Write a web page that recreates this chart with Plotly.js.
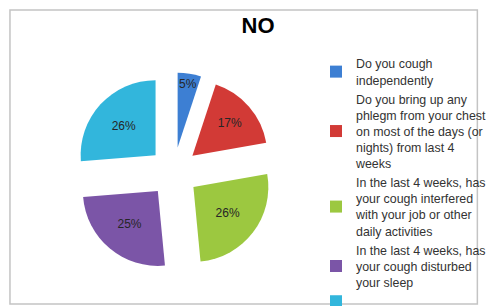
<!DOCTYPE html>
<html>
<head>
<meta charset="utf-8">
<script src="https://cdn.plot.ly/plotly-3.0.1.min.js"></script>
<style>html,body{margin:0;padding:0;background:#fff;overflow:hidden;}#chart{width:493px;height:330px;}</style>
</head>
<body>
<div id="chart"></div>
<script>
const categories = [
  "Do you cough<br>independently",
  "Do you bring up any<br>phlegm from your chest<br>on most of the days (or<br>nights) from last 4<br>weeks",
  "In the last 4 weeks, has<br>your cough interfered<br>with your job or other<br>daily activities",
  "In the last 4 weeks, has<br>your cough disturbed<br>your sleep",
  " "
];
const values = [5, 17, 26, 25, 26];
const colors = ["#3d7fd3", "#d23a36", "#9cc840", "#7b55a7", "#32b6dc"];

const W = 493, H = 330;
const cx = 183, cy = 172, half = 105;

const data = [{
  type: "pie",
  labels: categories,
  values: values,
  sort: false,
  direction: "clockwise",
  rotation: 0,
  pull: [0.33, 0.33, 0.33, 0.33, 0.33],
  marker: {colors: colors, line: {color: "#ffffff", width: 0}},
  textinfo: "percent",
  texttemplate: "%{percent:.0%}",
  textposition: "inside",
  insidetextorientation: "horizontal",
  textfont: {family: "Liberation Sans, Arial, sans-serif", size: 12, color: "#262626"},
  hoverinfo: "label+percent",
  domain: {x: [(cx - half) / W, (cx + half) / W], y: [1 - (cy + half) / H, 1 - (cy - half) / H]}
}];

const layout = {
  width: W, height: H,
  margin: {l: 0, r: 0, t: 0, b: 0},
  paper_bgcolor: "#ffffff",
  showlegend: true,
  uniformtext: {minsize: 12, mode: "show"},
  title: {
    text: "<b>NO</b>",
    x: 258 / W, xanchor: "center",
    y: 1 - 25 / H, yanchor: "middle",
    font: {family: "Liberation Sans, Arial, sans-serif", size: 22, color: "#000000"}
  },
  legend: {
    x: 333 / W, xanchor: "left",
    y: 1 - 49 / H, yanchor: "top",
    font: {family: "Liberation Sans, Arial, sans-serif", size: 12.4, color: "#333333"},
    bgcolor: "rgba(0,0,0,0)",
    traceorder: "normal",
    valign: "middle"
  },
  shapes: [{
    type: "rect", xref: "paper", yref: "paper",
    x0: 10.5 / W, x1: 1.02, y0: 1 - 304 / H, y1: 1 - 10 / H,
    line: {color: "#c4c4c4", width: 1.5}, fillcolor: "rgba(0,0,0,0)", layer: "below"
  }]
};

Plotly.newPlot("chart", data, layout, {staticPlot: true, displayModeBar: false});
</script>
</body>
</html>
